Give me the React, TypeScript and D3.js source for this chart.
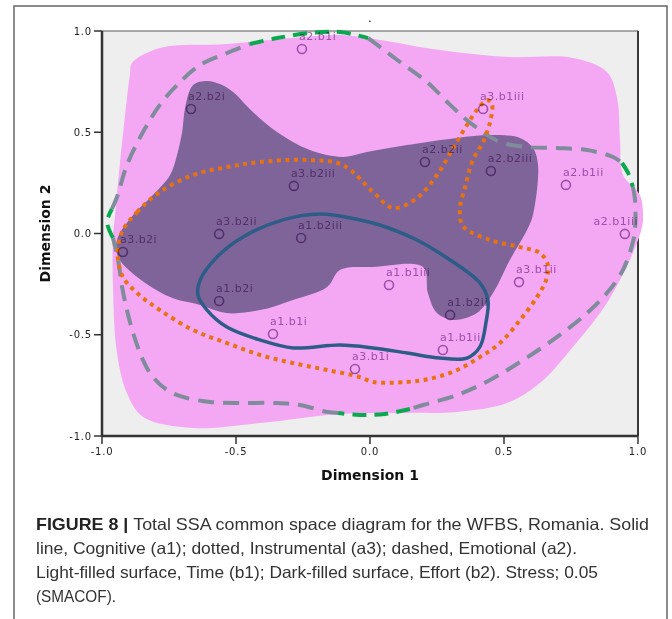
import React from 'react';
import * as d3 from 'd3';

type Pt = [number, number];

// Axis ticks
const xTickValues = [-1.0, -0.5, 0.0, 0.5, 1.0];
const yTickValues = [-1.0, -0.5, 0.0, 0.5, 1.0];

// SSA common space: item labels and coordinates
const pointNames = [
  'a2.b1i', 'a2.b2i', 'a3.b1iii', 'a2.b2ii', 'a2.b2iii', 'a2.b1ii',
  'a3.b2iii', 'a3.b2ii', 'a1.b2iii', 'a2.b1iii', 'a3.b2i', 'a1.b1iii',
  'a3.b1ii', 'a1.b2i', 'a1.b2ii', 'a1.b1i', 'a1.b1ii', 'a3.b1i',
];
const dim1 = [
  -0.254, -0.668, 0.422, 0.205, 0.451, 0.731,
  -0.284, -0.563, -0.257, 0.951, -0.922, 0.071,
  0.556, -0.563, 0.299, -0.362, 0.272, -0.056,
];
const dim2 = [
  0.911, 0.615, 0.615, 0.353, 0.309, 0.240,
  0.235, -0.002, -0.022, -0.002, -0.091, -0.254,
  -0.240, -0.333, -0.402, -0.496, -0.575, -0.669,
];

// Light-filled surface: Time (b1)
const timeSurface: Pt[] = [
  [-0.888, 0.842], [-0.784, 0.916], [-0.534, 0.936], [-0.287, 0.965], [-0.112, 0.980],
  [0.037, 0.956], [0.261, 0.906], [0.511, 0.872], [0.757, 0.867], [0.884, 0.798],
  [0.922, 0.669], [0.933, 0.462], [0.944, 0.289], [1.007, 0.190], [1.019, 0.091],
  [1.015, 0.032], [0.981, -0.096], [0.884, -0.343], [0.757, -0.560], [0.634, -0.738],
  [0.511, -0.837], [0.325, -0.881], [0.138, -0.886], [-0.112, -0.891], [-0.410, -0.936],
  [-0.660, -0.960], [-0.847, -0.906], [-0.907, -0.788], [-0.944, -0.590], [-0.959, -0.264],
  [-0.959, -0.017], [-0.951, 0.091], [-0.940, 0.254], [-0.914, 0.585], [-0.896, 0.783],
];

// Dark-filled surface: Effort (b2)
const effortSurface: Pt[] = [
  [-0.608, 0.753], [-0.560, 0.738], [-0.511, 0.699], [-0.437, 0.600], [-0.347, 0.501],
  [-0.224, 0.412], [-0.101, 0.378], [-0.011, 0.402], [0.138, 0.437], [0.325, 0.472],
  [0.448, 0.486], [0.560, 0.472], [0.608, 0.422], [0.627, 0.338], [0.608, 0.091],
  [0.586, 0.017], [0.522, -0.131], [0.459, -0.294], [0.399, -0.393], [0.310, -0.427],
  [0.250, -0.393], [0.216, -0.294], [0.198, -0.165], [0.011, -0.165], [-0.112, -0.180],
  [-0.160, -0.264], [-0.287, -0.328], [-0.410, -0.378], [-0.534, -0.393], [-0.634, -0.353],
  [-0.746, -0.314], [-0.869, -0.215], [-0.940, -0.116], [-0.944, -0.032], [-0.884, 0.091],
  [-0.810, 0.190], [-0.746, 0.289], [-0.720, 0.388], [-0.701, 0.501], [-0.690, 0.620],
  [-0.660, 0.733],
];

// Solid line: Cognitive (a1)
const cognitiveLine: Pt[] = [
  [-0.187, 0.096], [-0.037, 0.067], [0.037, 0.042], [0.175, -0.032], [0.299, -0.131],
  [0.410, -0.244], [0.440, -0.328], [0.433, -0.437], [0.410, -0.560], [0.362, -0.615],
  [0.261, -0.615], [0.138, -0.590], [0.011, -0.565], [-0.112, -0.551], [-0.287, -0.565],
  [-0.410, -0.526], [-0.534, -0.462], [-0.608, -0.378], [-0.642, -0.304], [-0.634, -0.230],
  [-0.571, -0.116], [-0.474, -0.017], [-0.325, 0.067],
];

// Dotted line: Instrumental (a3)
const instrumentalLine: Pt[] = [
  [-0.922, 0.017], [-0.869, 0.106], [-0.784, 0.205], [-0.660, 0.289], [-0.534, 0.328],
  [-0.410, 0.353], [-0.235, 0.363], [-0.101, 0.338], [0.011, 0.205], [0.086, 0.126],
  [0.175, 0.175], [0.250, 0.289], [0.310, 0.422], [0.362, 0.536], [0.399, 0.610],
  [0.437, 0.659], [0.455, 0.640], [0.448, 0.551], [0.422, 0.452], [0.384, 0.363],
  [0.354, 0.225], [0.336, 0.126], [0.347, 0.037], [0.448, -0.032], [0.560, -0.067],
  [0.634, -0.096], [0.664, -0.156], [0.657, -0.230], [0.623, -0.314], [0.560, -0.427],
  [0.485, -0.541], [0.410, -0.610], [0.325, -0.674], [0.235, -0.714], [0.138, -0.733],
  [0.011, -0.733], [-0.037, -0.709], [-0.160, -0.674], [-0.287, -0.640], [-0.410, -0.600],
  [-0.534, -0.541], [-0.660, -0.477], [-0.784, -0.378], [-0.869, -0.294], [-0.922, -0.215],
  [-0.940, -0.131], [-0.940, -0.067],
];

// Dashed line: Emotional (a2), grey stretches
const emotionalGrey: Pt[][] = [
  [[-0.963, 0.121], [-0.944, 0.180], [-0.907, 0.338], [-0.847, 0.501], [-0.784, 0.635],
   [-0.720, 0.733], [-0.634, 0.832], [-0.534, 0.891], [-0.448, 0.936]],
  [[-0.007, 0.965], [0.112, 0.847], [0.213, 0.748], [0.299, 0.635], [0.384, 0.536],
   [0.485, 0.452], [0.586, 0.427], [0.698, 0.422], [0.810, 0.412], [0.907, 0.378],
   [0.940, 0.348]],
  [[0.981, 0.230], [0.989, 0.165], [0.989, 0.027], [0.981, -0.042], [0.944, -0.180],
   [0.884, -0.294], [0.810, -0.393], [0.698, -0.511], [0.571, -0.625], [0.448, -0.723],
   [0.325, -0.798], [0.198, -0.847], [0.149, -0.867]],
  [[-0.119, -0.886], [-0.160, -0.881], [-0.261, -0.847], [-0.347, -0.837], [-0.474, -0.837],
   [-0.597, -0.832], [-0.698, -0.807], [-0.757, -0.773], [-0.810, -0.709], [-0.847, -0.625],
   [-0.884, -0.491], [-0.907, -0.378], [-0.925, -0.264], [-0.940, -0.131], [-0.959, -0.022]],
];

// Dashed line: Emotional (a2), green stretches
const emotionalGreen: Pt[][] = [
  [[-0.448, 0.936], [-0.347, 0.965], [-0.224, 0.990], [-0.112, 0.995], [-0.007, 0.965]],
  [[0.940, 0.348], [0.963, 0.299], [0.981, 0.230]],
  [[0.149, -0.867], [0.056, -0.891], [-0.037, -0.896], [-0.119, -0.886]],
  [[-0.959, -0.022], [-0.981, 0.057], [-0.963, 0.121]],
];

const captionLines = [
  { bold: 'FIGURE 8 | ', text: 'Total SSA common space diagram for the WFBS, Romania. Solid', width: 613 },
  { bold: '', text: 'line, Cognitive (a1); dotted, Instrumental (a3); dashed, Emotional (a2).', width: 541 },
  { bold: '', text: 'Light-filled surface, Time (b1); Dark-filled surface, Effort (b2). Stress; 0.05', width: 562 },
  { bold: '', text: '(SMACOF).', width: 80 },
];

const W = 672;
const H = 619;
const plot = { left: 102, right: 638, top: 31, bottom: 436 };

// tick text with a plain hyphen for negatives
const tickText = (v: number) => d3.format('.1f')(v).replace('\u2212', '-');

export default function App() {
  const x = d3.scaleLinear().domain([-1, 1]).range([plot.left, plot.right]);
  const y = d3.scaleLinear().domain([-1, 1]).range([plot.bottom, plot.top]);

  const closedPath = d3
    .line<Pt>()
    .x((d) => x(d[0]))
    .y((d) => y(d[1]))
    .curve(d3.curveCatmullRomClosed.alpha(0.5));
  const openPath = d3
    .line<Pt>()
    .x((d) => x(d[0]))
    .y((d) => y(d[1]))
    .curve(d3.curveCatmullRom.alpha(0.5));

  const labelColor = '#a775b3';

  return (
    <svg
      width={W}
      height={H}
      viewBox={`0 0 ${W} ${H}`}
      style={{ position: 'absolute', left: 0, top: 0, display: 'block', background: '#fff' }}
    >
      {/* figure frame */}
      <rect x={14} y={6} width={653} height={640} fill="#fff" stroke="#666" strokeWidth={1.5} />

      {/* chart title mark */}
      <text x={370} y={22} fontSize={12} textAnchor="middle" fill="#111" fontFamily="DejaVu Sans">.</text>

      {/* plot background and frame */}
      <rect x={plot.left} y={plot.top} width={plot.right - plot.left} height={plot.bottom - plot.top} fill="#eeeeee" />
      <line x1={plot.left} x2={plot.right} y1={plot.top} y2={plot.top} stroke="#8c8c8c" strokeWidth={1.5} />
      <line x1={plot.right} x2={plot.right} y1={plot.top} y2={plot.bottom} stroke="#3a3a3a" strokeWidth={2} />

      {/* surfaces */}
      <path d={closedPath(timeSurface) ?? ''} fill="#f4a8f4" />
      <path d={closedPath(effortSurface) ?? ''} fill="#7f6499" />

      {/* emotional (a2) dashed */}
      {emotionalGreen.map((seg, i) => (
        <path key={`g${i}`} d={openPath(seg) ?? ''} fill="none" stroke="#0aa84f" strokeWidth={4} strokeDasharray="14 8" />
      ))}
      {emotionalGrey.map((seg, i) => (
        <path key={`e${i}`} d={openPath(seg) ?? ''} fill="none" stroke="#7f8c9c" strokeWidth={4} strokeDasharray="16 9" />
      ))}

      {/* instrumental (a3) dotted */}
      <path d={closedPath(instrumentalLine) ?? ''} fill="none" stroke="#e8720e" strokeWidth={4} strokeDasharray="4 4.5" />

      {/* cognitive (a1) solid */}
      <path d={closedPath(cognitiveLine) ?? ''} fill="none" stroke="#2d5d86" strokeWidth={3.5} />

      {/* points */}
      {pointNames.map((name, i) => {
        const px = x(dim1[i]);
        const py = y(dim2[i]);
        const nearEdge = px + 46 > plot.right;
        return (
          <g key={name} style={{ mixBlendMode: 'multiply' }}>
            <circle cx={px} cy={py} r={4.5} fill="none" stroke={labelColor} strokeWidth={1.6} />
            <text
              x={nearEdge ? plot.right : px - 3}
              y={py - 9}
              textAnchor={nearEdge ? 'end' : 'start'}
              fontSize={11}
              letterSpacing={0.5}
              fontFamily="DejaVu Sans"
              fill={labelColor}
            >
              {name}
            </text>
          </g>
        );
      })}

      {/* axes */}
      <line x1={plot.left} x2={plot.left} y1={plot.top} y2={plot.bottom} stroke="#333" strokeWidth={2.5} />
      <line x1={plot.left} x2={plot.right} y1={plot.bottom} y2={plot.bottom} stroke="#333" strokeWidth={2.5} />
      {yTickValues.map((v) => (
        <g key={`yt${v}`}>
          <line x1={plot.left - 8} x2={plot.left} y1={y(v)} y2={y(v)} stroke="#333" strokeWidth={1.5} />
          <text x={plot.left - 10} y={y(v) + 3.5} textAnchor="end" fontSize={10} letterSpacing={0.8} fontFamily="DejaVu Sans" fill="#222">
            {tickText(v)}
          </text>
        </g>
      ))}
      {xTickValues.map((v) => (
        <g key={`xt${v}`}>
          <line x1={x(v)} x2={x(v)} y1={plot.bottom} y2={plot.bottom + 8} stroke="#333" strokeWidth={1.5} />
          <text x={x(v)} y={plot.bottom + 19} textAnchor="middle" fontSize={10} letterSpacing={0.8} fontFamily="DejaVu Sans" fill="#222">
            {tickText(v)}
          </text>
        </g>
      ))}

      {/* axis titles */}
      <text x={(plot.left + plot.right) / 2} y={480} textAnchor="middle" fontSize={14} fontWeight="bold" fontFamily="DejaVu Sans" fill="#111">
        Dimension 1
      </text>
      <text
        transform={`translate(50, ${(plot.top + plot.bottom) / 2}) rotate(-90)`}
        textAnchor="middle"
        fontSize={14}
        fontWeight="bold"
        fontFamily="DejaVu Sans"
        fill="#111"
      >
        Dimension 2
      </text>

      {/* caption */}
      {captionLines.map((ln, i) => (
        <text
          key={`c${i}`}
          x={36}
          y={530 + i * 24}
          fontSize={16.5}
          fontFamily="'Liberation Sans', Arial, sans-serif"
          fill="#333"
          textLength={ln.width}
          lengthAdjust="spacingAndGlyphs"
        >
          {ln.bold && <tspan fontWeight="bold" fill="#222">{ln.bold}</tspan>}
          {ln.text}
        </text>
      ))}
    </svg>
  );
}
